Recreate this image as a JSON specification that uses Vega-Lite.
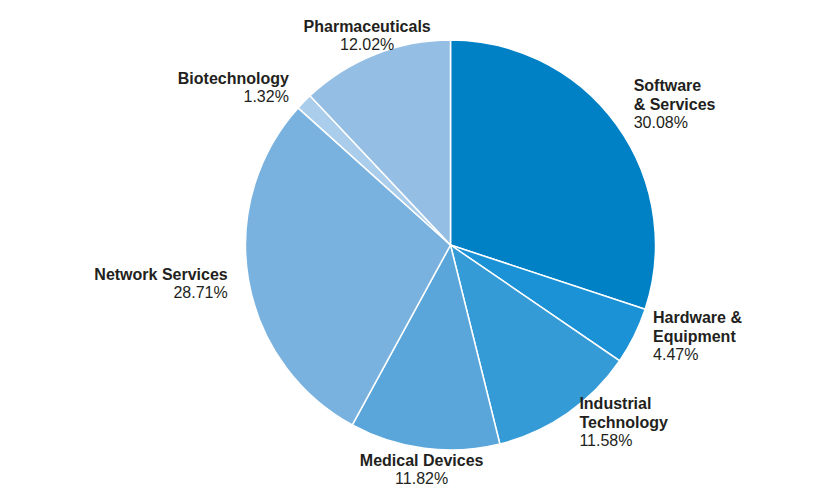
{
  "$schema": "https://vega.github.io/schema/vega-lite/v6.json",
  "width": 817,
  "height": 488,
  "autosize": {"type": "fit", "contains": "padding"},
  "padding": {"left": 84, "right": 0, "top": 0, "bottom": 0},
  "background": "white",
  "config": {"view": {"stroke": null}, "text": {"font": "Liberation Sans", "fontSize": 16, "color": "#231F20"}},
  "data": {"values": [
    {"sector": "Software & Services", "label": "Software\n& Services", "share": 0.3008},
    {"sector": "Hardware & Equipment", "label": "Hardware &\nEquipment", "share": 0.0447},
    {"sector": "Industrial Technology", "label": "Industrial\nTechnology", "share": 0.1158},
    {"sector": "Medical Devices", "label": "Medical Devices", "share": 0.1182},
    {"sector": "Network Services", "label": "Network Services", "share": 0.2871},
    {"sector": "Biotechnology", "label": "Biotechnology", "share": 0.0132},
    {"sector": "Pharmaceuticals", "label": "Pharmaceuticals", "share": 0.1202}
  ]},
  "transform": [{"window": [{"op": "row_number", "as": "idx"}]}],
  "encoding": {
    "theta": {"field": "share", "type": "quantitative", "stack": true},
    "order": {"field": "idx", "type": "quantitative"}
  },
  "layer": [
    {
      "mark": {"type": "arc", "outerRadius": 205, "stroke": "white", "strokeWidth": 1.5},
      "encoding": {
        "color": {
          "field": "sector", "type": "nominal", "legend": null,
          "scale": {
            "domain": ["Software & Services", "Hardware & Equipment", "Industrial Technology", "Medical Devices", "Network Services", "Biotechnology", "Pharmaceuticals"],
            "range": ["#0081C6", "#1B92D5", "#349BD7", "#5AA6DB", "#79B2DF", "#A9CDEB", "#94BEE3"]
          }
        }
      }
    },
    {
      "mark": {"type": "text", "radius": 226, "align": "left", "baseline": "bottom", "dy": -19, "fontWeight": "bold", "lineBreak": "\n", "lineHeight": 19},
      "encoding": {
        "text": {"field": "label"},
        "opacity": {"condition": {"test": "indexof(['Software & Services','Hardware & Equipment','Industrial Technology'], datum.sector) >= 0", "value": 1}, "value": 0}
      }
    },
    {
      "mark": {"type": "text", "radius": 226, "align": "left", "baseline": "top", "dy": 2},
      "encoding": {
        "text": {"field": "share", "format": ".2%"},
        "opacity": {"condition": {"test": "indexof(['Software & Services','Hardware & Equipment','Industrial Technology'], datum.sector) >= 0", "value": 1}, "value": 0}
      }
    },
    {
      "mark": {"type": "text", "radius": 226, "align": "center", "baseline": "bottom", "fontWeight": "bold"},
      "encoding": {
        "text": {"field": "label"},
        "opacity": {"condition": {"test": "indexof(['Medical Devices','Pharmaceuticals'], datum.sector) >= 0", "value": 1}, "value": 0}
      }
    },
    {
      "mark": {"type": "text", "radius": 226, "align": "center", "baseline": "top", "dy": 2},
      "encoding": {
        "text": {"field": "share", "format": ".2%"},
        "opacity": {"condition": {"test": "indexof(['Medical Devices','Pharmaceuticals'], datum.sector) >= 0", "value": 1}, "value": 0}
      }
    },
    {
      "mark": {"type": "text", "radius": 226, "align": "right", "baseline": "bottom", "fontWeight": "bold"},
      "encoding": {
        "text": {"field": "label"},
        "opacity": {"condition": {"test": "indexof(['Network Services','Biotechnology'], datum.sector) >= 0", "value": 1}, "value": 0}
      }
    },
    {
      "mark": {"type": "text", "radius": 226, "align": "right", "baseline": "top", "dy": 2},
      "encoding": {
        "text": {"field": "share", "format": ".2%"},
        "opacity": {"condition": {"test": "indexof(['Network Services','Biotechnology'], datum.sector) >= 0", "value": 1}, "value": 0}
      }
    }
  ]
}
